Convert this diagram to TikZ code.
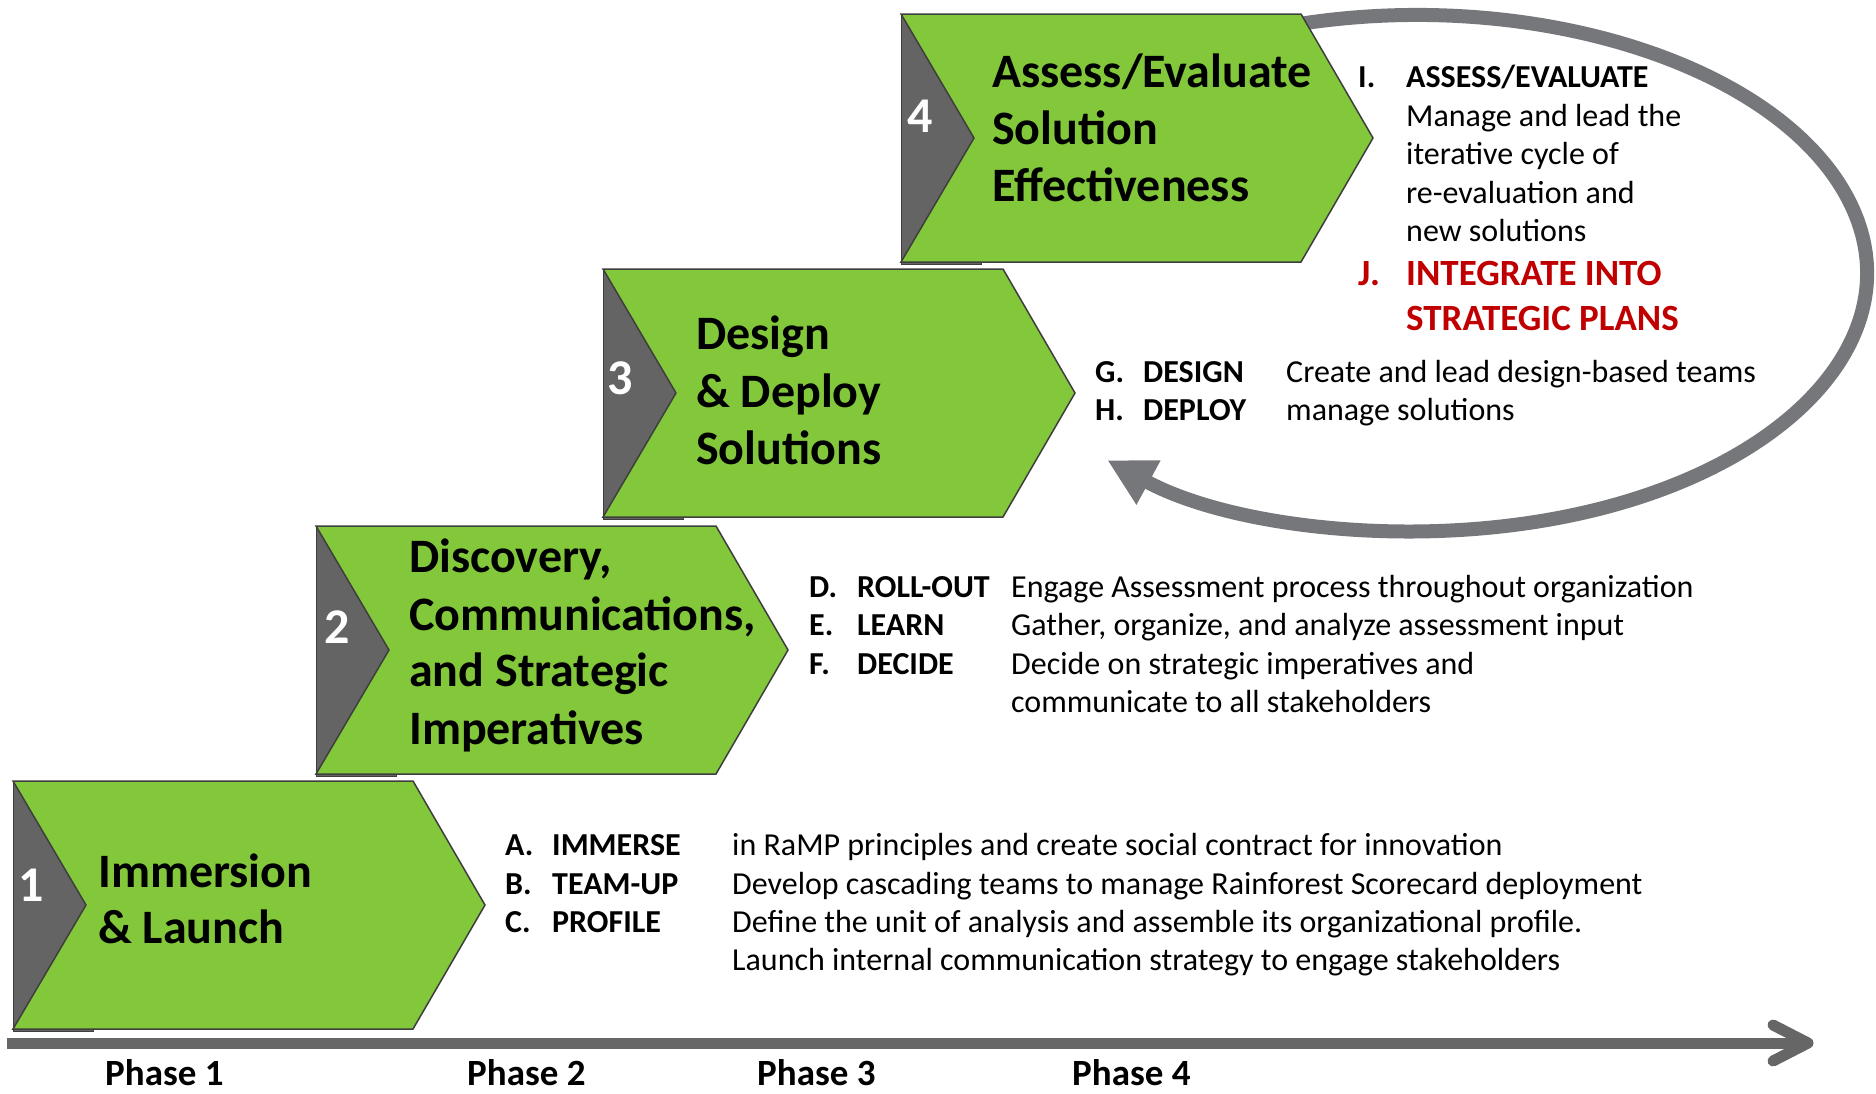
\documentclass[tikz,border=0pt]{standalone}
\usepackage{fontspec}
\setmainfont{Carlito}
\usetikzlibrary{arrows.meta}
\definecolor{chevgreen}{RGB}{131,199,58}
\definecolor{chevgrey}{RGB}{100,100,100}
\definecolor{chevedge}{RGB}{62,62,62}
\definecolor{loopgrey}{RGB}{118,119,123}
\definecolor{axisgrey}{RGB}{102,102,102}
\definecolor{planred}{RGB}{192,0,0}

% one phase chevron with its grey tab, drawn at the current origin
\newcommand\phasechevron{%
  \filldraw[fill=chevgrey, draw=chevedge, line width=1pt] (0,0) rectangle (80,250);
  \draw[chevedge, line width=1.5pt, fill=chevgreen, line join=miter]
    (0,0) -- (400,0) -- (472,124) -- (400,248) -- (0,248) -- (73,124) -- cycle;
}

\begin{document}
\begin{tikzpicture}[x=1pt, y=-1pt,
  head/.style={anchor=base west, inner sep=0pt, font=\fontsize{48}{58}\selectfont\bfseries},
  num/.style={inner sep=0pt, text=white, font=\fontsize{50}{60}\selectfont\bfseries},
  letter/.style={anchor=base west, inner sep=0pt, font=\fontsize{32}{38}\selectfont\bfseries},
  desc/.style={anchor=base west, inner sep=0pt, font=\fontsize{32}{38}\selectfont},
  redletter/.style={anchor=base west, inner sep=0pt, text=planred, font=\fontsize{37}{44}\selectfont\bfseries},
  phase/.style={anchor=base west, inner sep=0pt, font=\fontsize{37}{44}\selectfont\bfseries},
]
\useasboundingbox[fill=white] (0,0) rectangle (1876,1093);

% feedback loop around phase 4 back to phase 3
\draw[loopgrey, line width=14pt, -{Triangle[length=47pt, width=47pt]}]
  (1417,273) ++(-107:450 and 258)
  arc[start angle=-107, end angle=133.5, x radius=450, y radius=258];

% time axis
\coordinate (axL) at (7,1043);
\coordinate (axR) at (1808,1043);
\coordinate (axU) at (1773,1025);
\coordinate (axD) at (1773,1061);
\draw[axisgrey, line width=11pt] (axL) -- (axR);
\draw[axisgrey, line width=11pt, line cap=round, line join=round] (axU) -- (axR) -- (axD);

% phase 1
\begin{scope}[shift={(13,781)}]
  \phasechevron
  \node[num] (n1) at (18,104) {1};
  \node[head] (h1a) at (85,106) {Immersion};
  \node[head] (h1b) at (85,162) {\& Launch};
\end{scope}

% phase 2
\begin{scope}[shift={(316,526)}]
  \phasechevron
  \node[num] (n2) at (21,101) {2};
  \node[head] (h2a) at (93,46) {Discovery,};
  \node[head] (h2b) at (93,104) {Communications,};
  \node[head] (h2c) at (93,160) {and Strategic};
  \node[head] (h2d) at (93,218) {Imperatives};
\end{scope}

% phase 3
\begin{scope}[shift={(603,269)}]
  \phasechevron
  \node[num] (n3) at (17,109) {3};
  \node[head] (h3a) at (93,80) {Design};
  \node[head] (h3b) at (93,138) {\& Deploy};
  \node[head] (h3c) at (93,195) {Solutions};
\end{scope}

% phase 4
\begin{scope}[shift={(901,14)}]
  \phasechevron
  \node[num] (n4) at (19,102) {4};
  \node[head] (h4a) at (91,73) {Assess/Evaluate};
  \node[head] (h4b) at (91,130) {Solution};
  \node[head] (h4c) at (91,187) {Effectiveness};
\end{scope}

% steps of phase 1
\node[letter] (la) at (505,855) {A.};
\node[letter] (wa) at (552,855) {IMMERSE};
\node[desc]   (da) at (732,855) {in RaMP principles and create social contract for innovation};
\node[letter] (lb) at (505,894) {B.};
\node[letter] (wb) at (552,894) {TEAM-UP};
\node[desc]   (db) at (732,894) {Develop cascading teams to manage Rainforest Scorecard deployment};
\node[letter] (lc) at (505,932) {C.};
\node[letter] (wc) at (552,932) {PROFILE};
\node[desc]   (dc) at (732,932) {Define the unit of analysis and assemble its organizational profile.};
\node[desc]   (dc2) at (732,970) {Launch internal communication strategy to engage stakeholders};

% steps of phase 2
\node[letter] (ld) at (809,597) {D.};
\node[letter] (wd) at (857,597) {ROLL-OUT};
\node[desc]   (dd) at (1011,597) {Engage Assessment process throughout organization};
\node[letter] (le) at (809,635) {E.};
\node[letter] (we) at (857,635) {LEARN};
\node[desc]   (de) at (1011,635) {Gather, organize, and analyze assessment input};
\node[letter] (lf) at (809,674) {F.};
\node[letter] (wf) at (857,674) {DECIDE};
\node[desc]   (df) at (1011,674) {Decide on strategic imperatives and};
\node[desc]   (df2) at (1011,712) {communicate to all stakeholders};

% steps of phase 3
\node[letter] (lg) at (1095,382) {G.};
\node[letter] (wg) at (1143,382) {DESIGN};
\node[desc]   (dg) at (1286,382) {Create and lead design-based teams};
\node[letter] (lh) at (1095,420) {H.};
\node[letter] (wh) at (1143,420) {DEPLOY};
\node[desc]   (dh) at (1286,420) {manage solutions};

% steps of phase 4
\node[letter] (li) at (1358,87) {I.};
\node[letter] (wi) at (1406,87) {ASSESS/EVALUATE};
\node[desc]   (di1) at (1406,126) {Manage and lead the};
\node[desc]   (di2) at (1406,164) {iterative cycle of};
\node[desc]   (di3) at (1406,203) {re-evaluation and};
\node[desc]   (di4) at (1406,241) {new solutions};
\node[redletter] (lj) at (1358,285) {J.};
\node[redletter] (wj) at (1406,285) {INTEGRATE INTO};
\node[redletter] (wj2) at (1406,330) {STRATEGIC PLANS};

% phase labels under the axis
\node[phase] (p1) at (105,1085) {Phase 1};
\node[phase] (p2) at (467,1085) {Phase 2};
\node[phase] (p3) at (757,1085) {Phase 3};
\node[phase] (p4) at (1072,1085) {Phase 4};
\end{tikzpicture}
\end{document}
